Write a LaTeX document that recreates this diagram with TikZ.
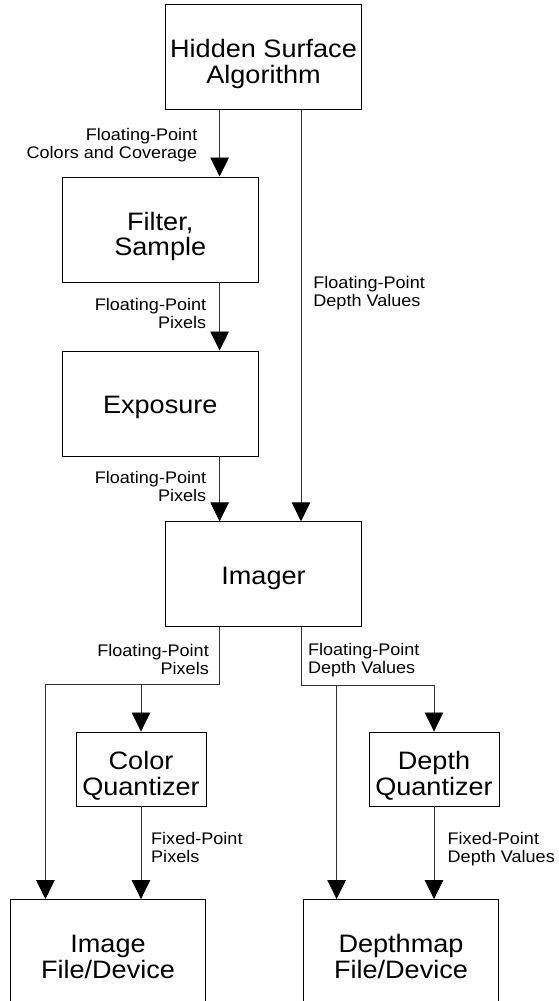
\documentclass[tikz,border=0pt]{standalone}
\usepackage{fontspec}
\setmainfont[FakeStretch=1.075]{Liberation Sans}
\usetikzlibrary{arrows.meta,calc}
\newcommand\twoline[2]{\rule{0pt}{32.5pt}#1\\#2\rule[-6pt]{0pt}{6pt}}
\newcommand\oneline[1]{\rule[-6pt]{0pt}{31.4pt}#1}
\newcommand\lbltwo[2]{\rule{0pt}{13pt}#1\\#2}
\begin{document}
\begin{tikzpicture}[x=1pt,y=-1pt,
  box/.style={draw,line width=0.9pt,inner sep=0pt,align=center,
    font=\fontsize{25.2}{25.5}\selectfont},
  bigbox/.style={box,minimum width=195.5pt,minimum height=105pt},
  smallbox/.style={box,minimum width=130pt,minimum height=74pt},
  lbl/.style={inner sep=0pt,font=\fontsize{16.8}{18.2}\selectfont},
  lblL/.style={lbl,anchor=north east,align=right},
  lblR/.style={lbl,anchor=north west,align=left},
  conn/.style={line width=0.8pt,draw=black!80},
  arr/.style={conn,-{Triangle[width=18.5pt,length=19pt,color=black]}}]
\useasboundingbox (0,0) rectangle (558,1001);
\fill[white] (0,0) rectangle (558,1001);
% nodes
\node[bigbox] (hsa) at (263.5,57) {\twoline{Hidden Surface}{Algorithm}};
\node[bigbox] (fs) at (160.25,229.5) {\twoline{Filter,}{Sample}};
\node[bigbox] (exp) at (160.25,403.5) {\oneline{Exposure}};
\node[bigbox] (img) at (263.5,574.3) {\oneline{Imager}};
\node[smallbox] (cq) at (141,769) {\twoline{Color}{Quantizer}};
\node[smallbox] (dq) at (434,769) {\twoline{Depth}{Quantizer}};
\node[bigbox] (imf) at (108,952) {\twoline{Image}{File/Device}};
\node[bigbox] (dmf) at (401,952) {\twoline{Depthmap}{File/Device}};
% helper coordinates
\coordinate (xa) at (219.6,0);
\coordinate (xb) at (301,0);
\coordinate (xl) at (45.4,0);
\coordinate (xr) at (336.6,0);
\coordinate (jl) at (219.6,684.3);
\coordinate (jr) at (301,685);
% connectors
\draw[arr] (hsa.south -| xa) -- (fs.north -| xa);
\draw[arr] (fs.south -| xa) -- (exp.north -| xa);
\draw[arr] (exp.south -| xa) -- (img.north -| xa);
\draw[arr] (hsa.south -| xb) -- (img.north -| xb);
\draw[arr] (img.south -| xa) -- (jl) -| (imf.north -| xl);
\draw[arr] (jl -| cq.north) -- (cq.north);
\draw[arr] (cq.south) -- (imf.north -| cq.south);
\draw[arr] (img.south -| xb) -- (jr) -| (dq.north);
\draw[arr] (jr -| xr) -- (dmf.north -| xr);
\draw[arr] (dq.south) -- (dmf.north -| dq.south);
% labels
\node[lblL] (l1) at (197.5,127) {\lbltwo{Floating-Point}{Colors and Coverage}};
\node[lblL] (l2) at (206.4,297) {\lbltwo{Floating-Point}{Pixels}};
\node[lblL] (l3) at (206.4,470.3) {\lbltwo{Floating-Point}{Pixels}};
\node[lblR] (l4) at (313.2,275.3) {\lbltwo{Floating-Point}{Depth Values}};
\node[lblL] (l5) at (209,643) {\lbltwo{Floating-Point}{Pixels}};
\node[lblR] (l6) at (307.9,642) {\lbltwo{Floating-Point}{Depth Values}};
\node[lblR] (l7) at (151,830.8) {\lbltwo{Fixed-Point}{Pixels}};
\node[lblR] (l8) at (447.5,830.8) {\lbltwo{Fixed-Point}{Depth Values}};
\end{tikzpicture}
\end{document}
